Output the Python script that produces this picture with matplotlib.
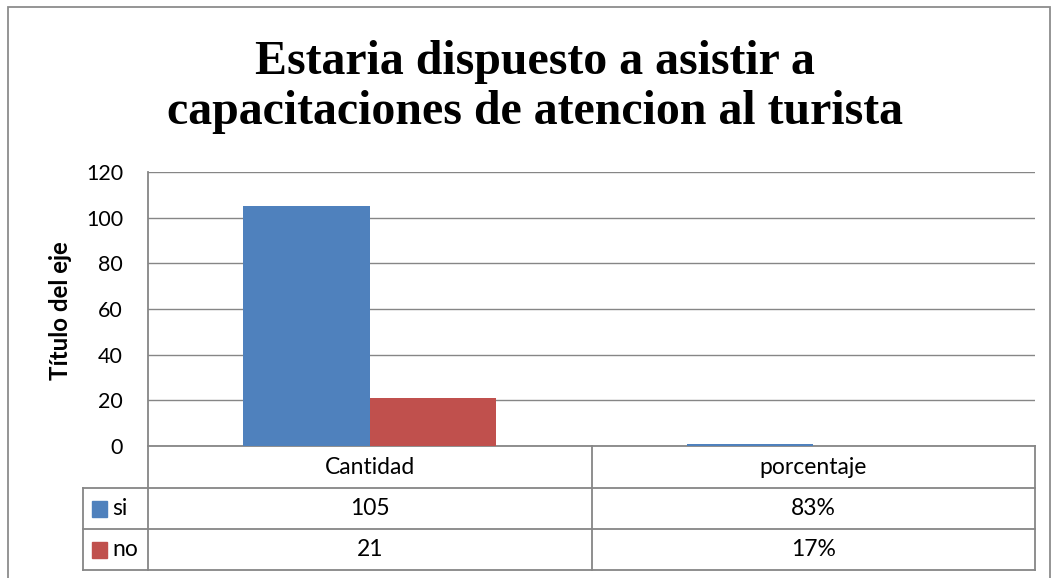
import numpy as np
import matplotlib.pyplot as plt
from matplotlib.patches import Rectangle

# datos
categorias = ["Cantidad", "porcentaje"]
series = ["si", "no"]
valores_si = [105, 0.83]
valores_no = [21, 0.17]
tabla_si = ["105", "83%"]
tabla_no = ["21", "17%"]
colores = ["#4F81BD", "#C0504D"]

titulo_1 = "Estaria dispuesto a asistir a"
titulo_2 = "capacitaciones de atencion al turista"
W, H = 1056, 578

fig = plt.figure(figsize=(W / 100, H / 100), dpi=100)
ax = fig.add_axes([148 / W, 1 - 446 / H, (1035 - 148) / W, (446 - 172) / H])

grid_col = "#868686"
fuente = "Lato"

# marco exterior
fig.patches.append(Rectangle((8 / W, -0.05), (1050 - 8) / W, 1.05 - 7 / H,
                             transform=fig.transFigure, fill=False,
                             edgecolor="#8c8c8c", linewidth=1.3))

x = np.arange(len(categorias))
w = 1 / 3.5
ax.bar(x - w / 2, valores_si, w, color=colores[0], zorder=3)
ax.bar(x + w / 2, valores_no, w, color=colores[1], zorder=3)

ax.set_xlim(-0.5, 1.5)
ax.set_ylim(0, 120)
ax.set_yticks(np.arange(0, 121, 20))
ax.yaxis.grid(True, color=grid_col, linewidth=1)
ax.set_axisbelow(True)
ax.set_xticks([])
ax.tick_params(axis="y", length=0, pad=18, labelsize=15.5)
for lab in ax.get_yticklabels():
    lab.set_fontfamily(fuente)
for s in ["top", "right", "bottom", "left"]:
    ax.spines[s].set_visible(False)

fig.text(61 / W, 1 - 311 / H, "Título del eje", rotation=90, ha="center",
         va="center", fontsize=17.3, fontweight="bold", fontfamily=fuente)

# tabla de datos
y_cab = -42 / 274
y_si = -83 / 274
y_no = -124 / 274
x_lab = (83 - 148) / 887
lk = dict(transform=ax.transAxes, color=grid_col, linewidth=1.3, clip_on=False)
ax.plot([0, 1], [0, 0], **lk)
for yy in [y_cab, y_si, y_no]:
    ax.plot([x_lab, 1], [yy, yy], **lk)
ax.plot([0, 0], [1, y_no], **lk)
ax.plot([0.5, 0.5], [0, y_no], **lk)
ax.plot([1, 1], [0, y_no], **lk)
ax.plot([x_lab, x_lab], [y_cab, y_no], **lk)

tk = dict(transform=ax.transAxes, ha="center", va="center", fontsize=16.5,
          fontfamily=fuente, clip_on=False)
for i, cat in enumerate(categorias):
    xc = 0.25 + 0.5 * i
    ax.text(xc, y_cab / 2, cat, **tk)
    ax.text(xc, (y_cab + y_si) / 2, tabla_si[i], **tk)
    ax.text(xc, (y_si + y_no) / 2, tabla_no[i], **tk)

sq = 15 / 887
sq_h = 16 / 274
for j, (nombre, yc) in enumerate(zip(series, [(y_cab + y_si) / 2, (y_si + y_no) / 2])):
    ax.add_patch(Rectangle(((92 - 148) / 887, yc - sq_h / 2), sq, sq_h,
                           transform=ax.transAxes, color=colores[j], clip_on=False))
    ax.text((112 - 148) / 887, yc, nombre, transform=ax.transAxes, ha="left",
            va="center", fontsize=16.5, fontfamily=fuente, clip_on=False)

tt = dict(ha="center", va="baseline", fontsize=34.5, fontweight="bold",
          fontfamily="Liberation Serif")
fig.text(535 / W, 1 - 74 / H, titulo_1, **tt)
fig.text(535 / W, 1 - 124 / H, titulo_2, **tt)

fig.savefig("out.png", dpi=100)
